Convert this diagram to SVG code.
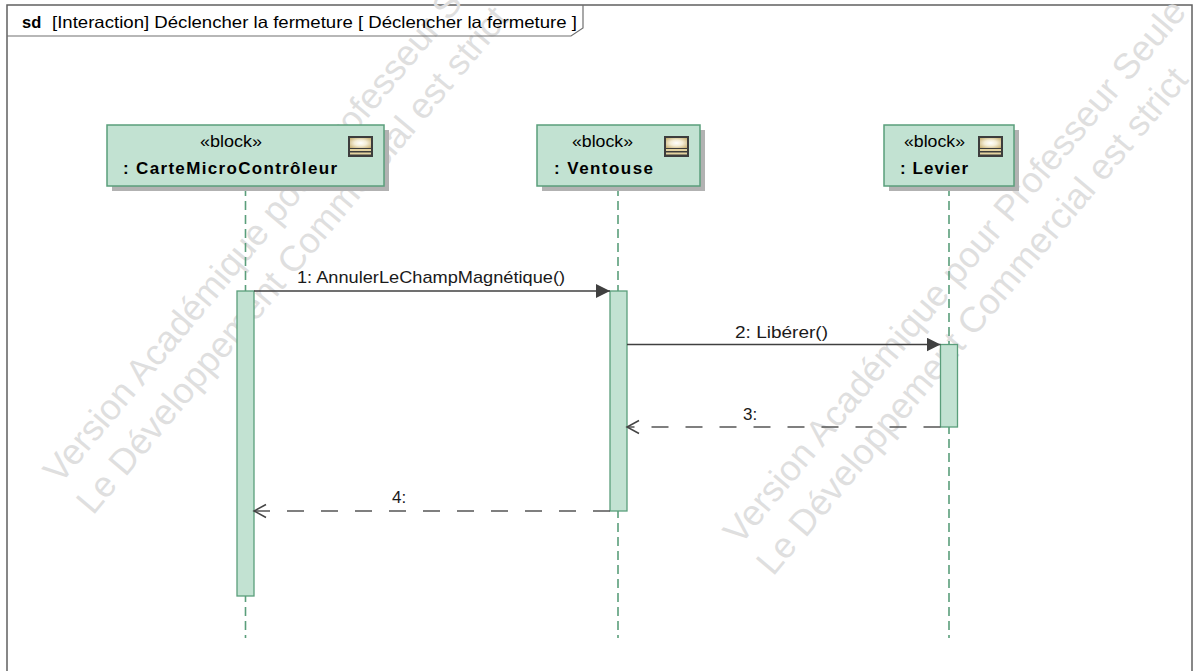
<svg xmlns="http://www.w3.org/2000/svg" width="1195" height="671" viewBox="0 0 1195 671">
<style>
text{font-family:"Liberation Sans",Arial,sans-serif;}
.frame{fill:#fff;stroke:#606060;stroke-width:1.5;}
.tab{fill:none;stroke:#707070;stroke-width:1.2;}
.title{font-size:16.5px;fill:#000;}
.wm{font-size:36px;fill:#dfdfdf;}
.shadow{fill:#b2b2b2;}
.box{fill:#c2e2d2;stroke:#5a9e7b;stroke-width:1.5;}
.act{fill:#c2e2d2;stroke:#5a9e7b;stroke-width:1.3;}
.life{stroke:#5a9e7b;stroke-width:1.6;stroke-dasharray:9 5;fill:none;}
.stereo{font-size:16px;fill:#000;}
.name{font-size:17px;font-weight:bold;fill:#000;}
.call{stroke:#404040;stroke-width:1.6;fill:none;marker-end:url(#filled);}
.ret{stroke:#555;stroke-width:1.5;fill:none;stroke-dasharray:17 17;marker-end:url(#open);}
.lbl{font-size:17px;fill:#1a1a1a;}
</style>
<defs>
<marker id="filled" markerUnits="userSpaceOnUse" markerWidth="15" markerHeight="15" refX="14" refY="7" orient="auto" viewBox="0 0 15 15">
<path d="M0,0 L14,7 L0,14 z" fill="#404040" stroke="none"/>
</marker>
<marker id="open" markerUnits="userSpaceOnUse" markerWidth="15" markerHeight="16" refX="13" refY="7.5" orient="auto" viewBox="0 0 15 16">
<path d="M1,1 L13,7.5 L1,14" fill="none" stroke="#444" stroke-width="1.5" stroke-dasharray="none"/>
</marker>
<radialGradient id="iconGrad" cx="50%" cy="50%" r="65%">
<stop offset="0" stop-color="#ffffff"/>
<stop offset="0.45" stop-color="#f4edd6"/>
<stop offset="1" stop-color="#c9b277"/>
</radialGradient>
<g id="blockIcon">
<rect x="0" y="0" width="25" height="21" fill="#3d3d3d"/>
<rect x="2" y="2" width="21" height="10" fill="url(#iconGrad)"/>
<rect x="2" y="13" width="21" height="2" fill="#e4d3a0"/>
<rect x="2" y="16.5" width="21" height="2" fill="#e4d3a0"/>
</g>
</defs>

<g id="frame">
<rect class="frame" x="7" y="5" width="1185" height="672"/>
</g>

<g id="watermark">
<g transform="translate(60,485) rotate(-50)">
<text class="wm" x="0" y="0">Version Académique pour Professeur Seule</text>
</g>
<g transform="translate(93,516) rotate(-50)">
<text class="wm" x="0" y="0">Le Développement Commercial est strict</text>
</g>
<g transform="translate(740,546) rotate(-50)">
<text class="wm" x="0" y="0">Version Académique pour Professeur Seule</text>
</g>
<g transform="translate(773,577) rotate(-50)">
<text class="wm" x="0" y="0">Le Développement Commercial est strict</text>
</g>
</g>

<g id="title">
<polyline class="tab" points="7,36 571,36 583,28 583,5"/>
<text class="title" x="22" y="28"><tspan font-weight="bold">sd</tspan></text>
<text class="title" x="52" y="28" textLength="525" lengthAdjust="spacingAndGlyphs">[Interaction] Déclencher la fermeture [ Déclencher la fermeture ]</text>
</g>

<g id="node-carte">
<line class="life" x1="245.5" y1="187" x2="245.5" y2="638"/>
<rect class="shadow" x="112" y="130" width="277" height="61"/>
<rect class="box" x="107" y="125" width="277" height="61"/>
<text class="stereo" x="200" y="147" textLength="62" lengthAdjust="spacingAndGlyphs">«block»</text>
<text class="name" x="123" y="174" textLength="214" lengthAdjust="spacing">: CarteMicroContrôleur</text>
<use href="#blockIcon" x="348" y="136"/>
<rect class="act" x="237" y="291" width="17" height="305"/>
</g>

<g id="node-ventouse">
<line class="life" x1="618" y1="187" x2="618" y2="638"/>
<rect class="shadow" x="542" y="130" width="163" height="61"/>
<rect class="box" x="537" y="125" width="163" height="61"/>
<text class="stereo" x="572" y="147" textLength="61" lengthAdjust="spacingAndGlyphs">«block»</text>
<text class="name" x="554" y="174" textLength="99" lengthAdjust="spacing">: Ventouse</text>
<use href="#blockIcon" x="664" y="136"/>
<rect class="act" x="610" y="291" width="17" height="220"/>
</g>

<g id="node-levier">
<line class="life" x1="949" y1="187" x2="949" y2="638"/>
<rect class="shadow" x="889" y="130" width="130" height="61"/>
<rect class="box" x="884" y="125" width="130" height="61"/>
<text class="stereo" x="904" y="147" textLength="61" lengthAdjust="spacingAndGlyphs">«block»</text>
<text class="name" x="900" y="174" textLength="68" lengthAdjust="spacing">: Levier</text>
<use href="#blockIcon" x="978" y="136"/>
<rect class="act" x="940.5" y="344.5" width="17" height="82.5"/>
</g>

<g id="connectors">
<line class="call" x1="254" y1="291" x2="610" y2="291"/>
<text class="lbl" x="297" y="283" textLength="268" lengthAdjust="spacingAndGlyphs">1: AnnulerLeChampMagnétique()</text>
<line class="call" x1="627" y1="344.5" x2="940.5" y2="344.5"/>
<text class="lbl" x="735" y="337.5" textLength="93" lengthAdjust="spacingAndGlyphs">2: Libérer()</text>
<line class="ret" x1="940.5" y1="427" x2="627" y2="427"/>
<text class="lbl" x="743" y="420">3:</text>
<line class="ret" x1="610" y1="511" x2="254" y2="511"/>
<text class="lbl" x="392" y="503">4:</text>
</g>
</svg>
